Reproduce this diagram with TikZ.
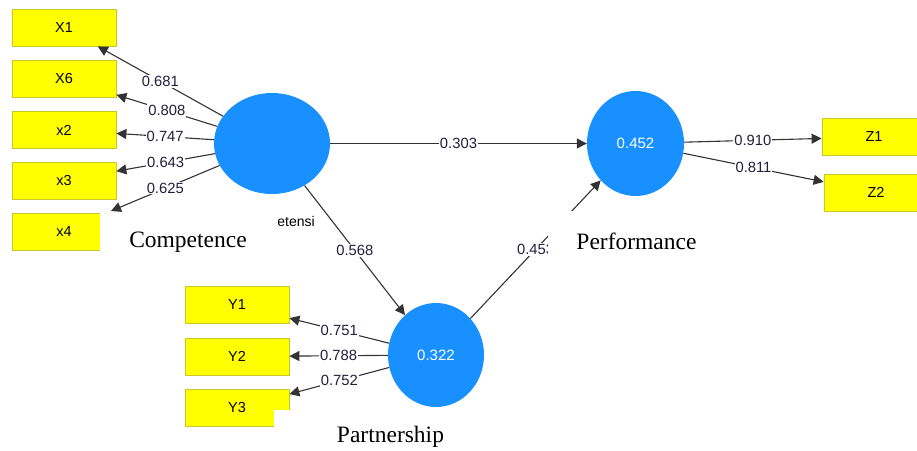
\documentclass[tikz,border=0pt]{standalone}
\usepackage{fontspec}
\setmainfont{Liberation Serif}
\newfontfamily\lblfont{Liberation Sans}
\usetikzlibrary{shapes.geometric,arrows.meta}
\definecolor{lvblue}{RGB}{24,144,255}
\definecolor{boxyellow}{RGB}{255,255,0}
\definecolor{boxedge}{RGB}{200,200,40}
\definecolor{lbltext}{RGB}{35,30,60}
\begin{document}
\begin{tikzpicture}[x=1pt,y=-1pt,
  ind/.style={draw=boxedge, fill=boxyellow, line width=0.8pt, minimum width=104pt, minimum height=37pt, inner sep=0pt, font=\lblfont\fontsize{14.5}{14.5}\selectfont, text=black},
  lv/.style={ellipse, fill=lvblue, inner sep=0pt, text=white, font=\lblfont\fontsize{15}{15}\selectfont},
  arr/.style={draw=black!80, line width=1.1pt, -{Triangle[length=10pt,width=10pt]}},
  lbl/.style={fill=white, inner sep=1pt, text=lbltext, font=\lblfont\fontsize{14.8}{14.8}\selectfont},
  lvtitle/.style={inner sep=0pt, font=\fontsize{23.5}{23.5}\selectfont},
  cover/.style={fill=white, draw=none}]

\useasboundingbox (0,0) rectangle (917,450);
\clip (0,0) rectangle (917,450);

% indicator boxes
\node[ind] (x1) at (64,27.5) {X1};
\node[ind] (x6) at (64,78.5) {X6};
\node[ind] (x2) at (64,130) {x2};
\node[ind] (x3) at (64,180.5) {x3};
\node[ind, minimum width=88pt] (x4) at (56,231.5) {\hspace*{16pt}x4};
\coordinate (x4tip) at (111,211);

\node[ind] (z1) at (874,137) {Z1};
\node[ind] (z2) at (876,192.5) {Z2};

\node[ind] (y1) at (237,305) {Y1};
\node[ind] (y2) at (237,356.5) {Y2};
\node[ind] (y3) at (237,408) {Y3};

% latent variables
\node[lv, minimum width=116pt, minimum height=101pt] (comp) at (272,143.5) {};
\node[lv, minimum width=97pt, minimum height=105pt] (perf) at (635.5,143.5) {0.452};
\node[lv, minimum width=96pt, minimum height=104pt] (part) at (436,355) {0.322};

% outer loadings
\draw[arr] (comp) -- node[lbl] (l1) {0.681} (x1);
\draw[arr] (comp) -- node[lbl] (l2) {0.808} (x6);
\draw[arr] (comp) -- node[lbl] (l3) {0.747} (x2);
\draw[arr] (comp) -- node[lbl] (l4) {0.643} (x3);
\draw[arr] (comp) -- node[lbl] (l5) {0.625} (x4tip);

\draw[arr] (part) -- node[lbl] (l6) {0.751} (y1);
\draw[arr] (part) -- node[lbl] (l7) {0.788} (y2);
\draw[arr] (part) -- node[lbl] (l8) {0.752} (y3);

\draw[arr] (perf) -- node[lbl] (l9) {0.910} (z1);
\draw[arr] (perf) -- node[lbl] (l10) {0.811} (z2);

% path coefficients
\draw[arr] (comp) -- node[lbl] (p1) {0.303} (perf);
\draw[arr] (comp) -- node[lbl] (p2) {0.568} (part);
\draw[arr] (part) -- node[lbl] (p3) {0.453} (perf);

% leftover label fragment
\node[inner sep=0pt, text=black, font=\lblfont\fontsize{14}{14}\selectfont] (frag) at (296,221) {etensi};

% white cover boxes with titles
\fill[cover] (100,212.5) rectangle (278,262);
\node[lvtitle] (tcomp) at (188,242) {Competence};
\fill[cover] (548,211) rectangle (725,262);
\node[lvtitle] (tperf) at (636.5,241.5) {Performance};
\fill[cover] (274,410) rectangle (507,450);
\node[lvtitle] (tpart) at (390.5,437) {Partnership};
\end{tikzpicture}
\end{document}
